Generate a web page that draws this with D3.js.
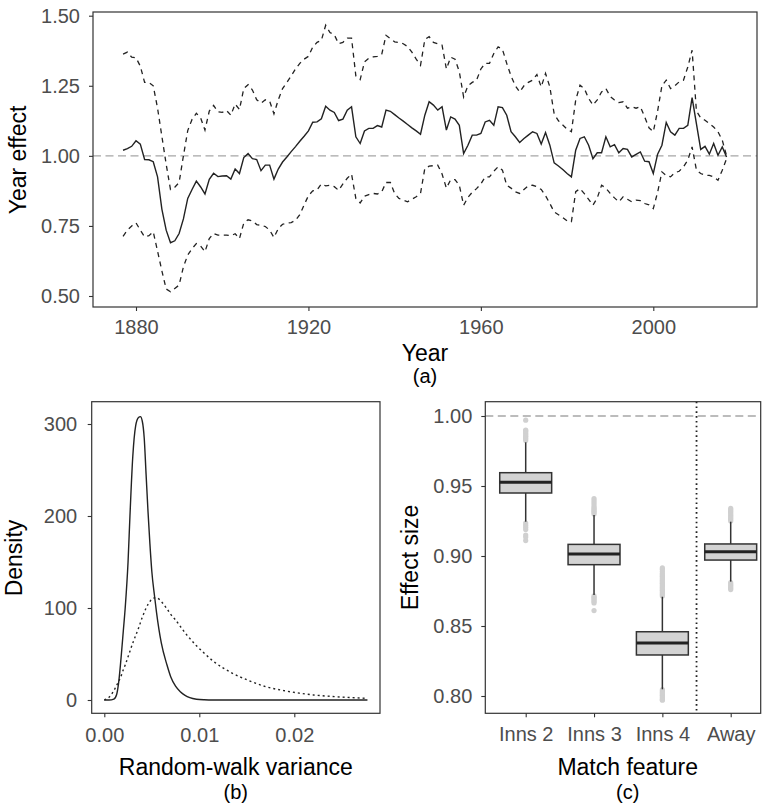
<!DOCTYPE html>
<html>
  <head>
    <meta charset="UTF-8" />
    <title>Year effect, random-walk variance and match features</title>
    <script src="https://cdn.jsdelivr.net/npm/d3@7"></script>
    <style>
      body {
        margin: 0;
        background: #fff;
      }
      svg {
        display: block;
        font-family: "Liberation Sans", Arial, sans-serif;
      }
      .tick text {
        fill: #4d4d4d;
        font-size: 20px;
        font-family: "Liberation Sans", Arial, sans-serif;
      }
      .tick line {
        stroke: #333;
        stroke-width: 1.1;
      }
      .title {
        font-size: 23px;
        fill: #000;
      }
      .panel-label {
        font-size: 20px;
        fill: #000;
      }
    </style>
  </head>
  <body>
    <div class="figure"></div>

    <script>
      // ---- panel (a): year effect with interval ----
      const years = [
        1877, 1878, 1879, 1880, 1881, 1882, 1883, 1884, 1885, 1886,
        1887, 1888, 1889, 1890, 1891, 1892, 1893, 1894, 1895, 1896,
        1897, 1898, 1899, 1900, 1901, 1902, 1903, 1904, 1905, 1906,
        1907, 1908, 1909, 1910, 1911, 1912, 1913, 1914, 1915, 1916,
        1917, 1918, 1919, 1920, 1921, 1922, 1923, 1924, 1925, 1926,
        1927, 1928, 1929, 1930, 1931, 1932, 1933, 1934, 1935, 1936,
        1937, 1938, 1939, 1940, 1941, 1942, 1943, 1944, 1945, 1946,
        1947, 1948, 1949, 1950, 1951, 1952, 1953, 1954, 1955, 1956,
        1957, 1958, 1959, 1960, 1961, 1962, 1963, 1964, 1965, 1966,
        1967, 1968, 1969, 1970, 1971, 1972, 1973, 1974, 1975, 1976,
        1977, 1978, 1979, 1980, 1981, 1982, 1983, 1984, 1985, 1986,
        1987, 1988, 1989, 1990, 1991, 1992, 1993, 1994, 1995, 1996,
        1997, 1998, 1999, 2000, 2001, 2002, 2003, 2004, 2005, 2006,
        2007, 2008, 2009, 2010, 2011, 2012, 2013, 2014, 2015, 2016,
        2017,
      ];
      const yearMean = [
        1.020, 1.026, 1.034, 1.054, 1.042, 0.987, 0.986, 0.979, 0.925, 0.810,
        0.735, 0.690, 0.697, 0.723, 0.775, 0.848, 0.880, 0.910, 0.889, 0.864,
        0.916, 0.938, 0.926, 0.928, 0.929, 0.917, 0.953, 0.937, 0.994, 1.008,
        0.990, 0.987, 0.947, 0.967, 0.967, 0.917, 0.953, 0.978, 0.996, 1.015,
        1.033, 1.052, 1.070, 1.089, 1.120, 1.121, 1.132, 1.177, 1.163, 1.155,
        1.126, 1.131, 1.163, 1.175, 1.068, 1.044, 1.089, 1.098, 1.098, 1.108,
        1.103, 1.163, 1.159, 1.147, 1.135, 1.124, 1.112, 1.100, 1.089, 1.077,
        1.145, 1.193, 1.181, 1.163, 1.175, 1.092, 1.139, 1.131, 1.109, 1.008,
        1.038, 1.074, 1.074, 1.080, 1.121, 1.127, 1.109, 1.175, 1.172, 1.145,
        1.086, 1.068, 1.048, 1.062, 1.074, 1.086, 1.080, 1.042, 1.083, 1.038,
        0.975, 0.964, 0.951, 0.937, 0.925, 1.020, 1.062, 1.068, 1.038, 0.990,
        1.011, 1.011, 1.068, 1.032, 1.040, 1.011, 1.026, 1.023, 0.996, 1.005,
        1.014, 0.981, 0.979, 0.937, 1.006, 1.038, 1.119, 1.086, 1.074, 1.098,
        1.098, 1.109, 1.208, 1.115, 1.023, 1.034, 1.006, 1.044, 1.002, 1.032,
        0.996,
      ];
      const yearUpper = [
        1.363, 1.370, 1.352, 1.350, 1.320, 1.262, 1.262, 1.250, 1.170, 1.070,
        0.970, 0.880, 0.888, 0.905, 1.000, 1.090, 1.130, 1.152, 1.135, 1.092,
        1.160, 1.180, 1.157, 1.155, 1.162, 1.145, 1.185, 1.165, 1.240, 1.254,
        1.235, 1.200, 1.188, 1.200, 1.195, 1.150, 1.200, 1.240, 1.262, 1.285,
        1.310, 1.330, 1.345, 1.355, 1.388, 1.405, 1.412, 1.466, 1.440, 1.432,
        1.400, 1.405, 1.420, 1.420, 1.285, 1.272, 1.335, 1.348, 1.353, 1.355,
        1.362, 1.430, 1.418, 1.407, 1.404, 1.400, 1.390, 1.370, 1.345, 1.323,
        1.415, 1.425, 1.405, 1.400, 1.395, 1.310, 1.352, 1.345, 1.300, 1.210,
        1.250, 1.262, 1.270, 1.310, 1.330, 1.330, 1.365, 1.389, 1.380, 1.330,
        1.285, 1.250, 1.228, 1.250, 1.262, 1.270, 1.290, 1.246, 1.294, 1.246,
        1.150, 1.125, 1.110, 1.095, 1.086, 1.199, 1.252, 1.240, 1.205, 1.181,
        1.200, 1.228, 1.240, 1.212, 1.199, 1.190, 1.193, 1.170, 1.175, 1.170,
        1.175, 1.139, 1.100, 1.086, 1.160, 1.250, 1.270, 1.240, 1.250, 1.264,
        1.270, 1.317, 1.377, 1.160, 1.135, 1.127, 1.115, 1.103, 1.086, 1.056,
        1.000,
      ];
      const yearLower = [
        0.713, 0.735, 0.750, 0.761, 0.735, 0.711, 0.715, 0.729, 0.660, 0.590,
        0.525, 0.515, 0.527, 0.539, 0.604, 0.646, 0.669, 0.687, 0.678, 0.658,
        0.705, 0.723, 0.717, 0.717, 0.717, 0.715, 0.722, 0.705, 0.760, 0.772,
        0.768, 0.755, 0.752, 0.748, 0.735, 0.709, 0.740, 0.756, 0.760, 0.762,
        0.770, 0.790, 0.825, 0.858, 0.875, 0.878, 0.900, 0.893, 0.895, 0.890,
        0.877, 0.900, 0.920, 0.935, 0.848, 0.832, 0.856, 0.862, 0.866, 0.864,
        0.872, 0.905, 0.905, 0.866, 0.848, 0.842, 0.836, 0.845, 0.854, 0.866,
        0.955, 0.963, 0.965, 0.967, 0.935, 0.885, 0.915, 0.915, 0.895, 0.824,
        0.852, 0.870, 0.883, 0.900, 0.925, 0.925, 0.945, 0.961, 0.949, 0.895,
        0.885, 0.872, 0.866, 0.880, 0.893, 0.895, 0.890, 0.880, 0.858, 0.830,
        0.800, 0.790, 0.780, 0.768, 0.765, 0.872, 0.883, 0.865, 0.845, 0.824,
        0.850, 0.895, 0.885, 0.866, 0.850, 0.836, 0.854, 0.845, 0.836, 0.842,
        0.840, 0.830, 0.825, 0.812, 0.870, 0.943, 0.930, 0.925, 0.940, 0.945,
        0.961, 0.985, 1.032, 0.950, 0.937, 0.931, 0.930, 0.925, 0.913, 0.949,
        0.990,
      ];
      const yearTicks = [1880, 1920, 1960, 2000];
      const effectTicks = [0.5, 0.75, 1.0, 1.25, 1.5];

      // ---- panel (b): random-walk variance densities ----
      const varianceX = [
        0, 0.0005, 0.001, 0.0013, 0.0015, 0.0018, 0.002, 0.0022, 0.0025,
        0.0027, 0.003, 0.0033, 0.0036, 0.0038, 0.004, 0.0042, 0.0044, 0.0046,
        0.0048, 0.005, 0.0053, 0.0055, 0.006, 0.0066, 0.007, 0.0075, 0.008,
        0.0085, 0.009, 0.0097, 0.0105, 0.0115, 0.0135, 0.015, 0.017, 0.019,
        0.0205, 0.022, 0.024, 0.026, 0.0277,
      ];
      const posteriorDensity = [
        0, 0, 1, 6, 18, 50, 75, 100, 150,
        200, 265, 298, 307, 308, 303, 285, 245, 205,
        170, 140, 112, 95, 62, 38, 25, 15, 9,
        5, 2.5, 0.8, 0.2, 0, 0, 0, 0, 0,
        0, 0, 0, 0, 0,
      ];
      const priorDensity = [
        0, 3, 10, 16, 20, 27, 33, 38, 47,
        53, 62, 70, 78, 84, 90, 95, 100, 104,
        107, 110, 111, 111, 107, 99, 93, 87, 80,
        73, 67, 59, 51, 42, 29, 22, 14.5, 10,
        7.5, 5.5, 3.8, 2.6, 1.8,
      ];
      const varianceTicks = [0, 0.01, 0.02];
      const densityTicks = [0, 100, 200, 300];

      // ---- panel (c): match feature effect sizes ----
      const features = ["Inns 2", "Inns 3", "Inns 4", "Away"];
      const whiskerLow = [0.9245, 0.8721, 0.8048, 0.8817];
      const boxQ1 = [0.945, 0.8938, 0.8293, 0.8971];
      const boxMedian = [0.9526, 0.9014, 0.8379, 0.9031];
      const boxQ3 = [0.9595, 0.9083, 0.8459, 0.9086];
      const whiskerHigh = [0.9812, 0.9293, 0.8709, 0.9245];
      const outliers = [
        [0.9825, 0.9835, 0.9845, 0.9855, 0.9865, 0.9875, 0.9885, 0.9895,
         0.990, 0.997, 0.9235, 0.922, 0.9205, 0.919, 0.915, 0.9135, 0.911],
        [0.930, 0.931, 0.932, 0.933, 0.934, 0.935, 0.9365, 0.938, 0.9395,
         0.941, 0.8715, 0.8705, 0.8695, 0.8685, 0.8675, 0.8665, 0.861],
        [0.8715, 0.8725, 0.8735, 0.8745, 0.8755, 0.8765, 0.8775, 0.8785,
         0.8795, 0.8805, 0.8815, 0.8825, 0.8835, 0.8845, 0.8855, 0.8865,
         0.8875, 0.889, 0.8905, 0.8915, 0.8045, 0.8035, 0.8025, 0.8015,
         0.8005, 0.7995, 0.7985, 0.7975, 0.797],
        [0.925, 0.926, 0.927, 0.928, 0.929, 0.930, 0.931, 0.932, 0.933,
         0.934, 0.881, 0.880, 0.879, 0.878, 0.877, 0.876],
      ];
      const sizeTicks = [0.8, 0.85, 0.9, 0.95, 1.0];

      // ---- drawing ----
      const width = 766;
      const height = 810;
      const ink = "#222";

      const svg = d3
        .select(".figure")
        .append("svg")
        .attr("width", width)
        .attr("height", height);

      svg.append("rect").attr("width", width).attr("height", height).attr("fill", "#fff");

      function frame(p) {
        svg
          .append("rect")
          .attr("x", p.left)
          .attr("y", p.top)
          .attr("width", p.right - p.left)
          .attr("height", p.bottom - p.top)
          .attr("fill", "none")
          .attr("stroke", "#333")
          .attr("stroke-width", 1.2);
      }

      function axes(p, x, y, xOpts, yOpts) {
        svg
          .append("g")
          .attr("transform", `translate(0,${p.bottom})`)
          .call(
            d3
              .axisBottom(x)
              .tickValues(xOpts.values)
              .tickFormat(xOpts.format)
              .tickSize(4)
              .tickPadding(xOpts.pad)
          )
          .call((g) => g.select(".domain").remove());

        svg
          .append("g")
          .attr("transform", `translate(${p.left},0)`)
          .call(
            d3
              .axisLeft(y)
              .tickValues(yOpts.values)
              .tickFormat(yOpts.format)
              .tickSize(4)
              .tickPadding(yOpts.pad)
          )
          .call((g) => g.select(".domain").remove());
      }

      function titles(xText, xPos, yText, yPos, label, labelY) {
        svg
          .append("text")
          .attr("class", "title")
          .attr("x", xPos[0])
          .attr("y", xPos[1])
          .attr("text-anchor", "middle")
          .text(xText);
        svg
          .append("text")
          .attr("class", "title")
          .attr("text-anchor", "middle")
          .attr("transform", `translate(${yPos[0]},${yPos[1]}) rotate(-90)`)
          .text(yText);
        svg
          .append("text")
          .attr("class", "panel-label")
          .attr("x", xPos[0])
          .attr("y", labelY)
          .attr("text-anchor", "middle")
          .text(label);
      }

      // panel (a)
      const pa = { left: 93, right: 757, top: 12, bottom: 307 };
      const xa = d3.scaleLinear().domain([1880, 2000]).range([136, 653.3]);
      const ya = d3.scaleLinear().domain([0.5, 1.5]).range([296, 15.7]);

      svg
        .append("line")
        .attr("x1", pa.left)
        .attr("x2", pa.right)
        .attr("y1", ya(1))
        .attr("y2", ya(1))
        .attr("stroke", "#a6a6a6")
        .attr("stroke-width", 1.3)
        .attr("stroke-dasharray", "8,4.5");

      const yearLine = d3
        .line()
        .x((d, i) => xa(years[i]))
        .y((d) => ya(d));

      [yearUpper, yearLower].forEach((series) => {
        svg
          .append("path")
          .datum(series)
          .attr("fill", "none")
          .attr("stroke", ink)
          .attr("stroke-width", 1.3)
          .attr("stroke-dasharray", "5,4.5")
          .attr("d", yearLine);
      });

      svg
        .append("path")
        .datum(yearMean)
        .attr("fill", "none")
        .attr("stroke", ink)
        .attr("stroke-width", 1.4)
        .attr("d", yearLine);

      frame(pa);
      axes(
        pa,
        xa,
        ya,
        { values: yearTicks, format: d3.format("d"), pad: 9 },
        { values: effectTicks, format: d3.format(".2f"), pad: 9 }
      );
      titles("Year", [425, 361], "Year effect", [26, 160], "(a)", 383);

      // panel (b)
      const pb = { left: 91.7, right: 380, top: 401.7, bottom: 713.3 };
      const xb = d3.scaleLinear().domain([0, 0.02]).range([104.3, 294.3]);
      const yb = d3.scaleLinear().domain([0, 300]).range([700, 424]);

      const densityLine = (series) =>
        d3
          .line()
          .curve(d3.curveMonotoneX)
          .x((d, i) => xb(varianceX[i]))
          .y((d) => yb(d))(series);

      svg
        .append("path")
        .attr("d", densityLine(priorDensity))
        .attr("fill", "none")
        .attr("stroke", ink)
        .attr("stroke-width", 1.4)
        .attr("stroke-dasharray", "2,3");

      svg
        .append("path")
        .attr("d", densityLine(posteriorDensity))
        .attr("fill", "none")
        .attr("stroke", ink)
        .attr("stroke-width", 1.4);

      frame(pb);
      axes(
        pb,
        xb,
        yb,
        { values: varianceTicks, format: d3.format(".2f"), pad: 11 },
        { values: densityTicks, format: d3.format("d"), pad: 10.5 }
      );
      titles("Random-walk variance", [235.8, 775], "Density", [22, 558], "(b)", 799);

      // panel (c)
      const pc = { left: 485.3, right: 760.7, top: 401.7, bottom: 713.3 };
      const xc = d3.scalePoint().domain(features).range([525.7, 730.7]);
      const yc = d3.scaleLinear().domain([0.8, 1.0]).range([696, 416]);
      const half = xc.step() * 0.38;

      svg
        .append("line")
        .attr("x1", pc.left)
        .attr("x2", pc.right)
        .attr("y1", yc(1))
        .attr("y2", yc(1))
        .attr("stroke", "#a6a6a6")
        .attr("stroke-width", 1.3)
        .attr("stroke-dasharray", "8,4.5");

      const splitX = (xc("Inns 4") + xc("Away")) / 2;
      svg
        .append("line")
        .attr("x1", splitX)
        .attr("x2", splitX)
        .attr("y1", pc.top)
        .attr("y2", pc.bottom)
        .attr("stroke", ink)
        .attr("stroke-width", 1.8)
        .attr("stroke-dasharray", "1.6,3.2");

      const boxes = svg
        .append("g")
        .selectAll("g")
        .data(features)
        .join("g");

      boxes.each(function (name, i) {
        const g = d3.select(this);
        const cx = xc(name);

        g.selectAll("circle")
          .data(outliers[i])
          .join("circle")
          .attr("cx", cx)
          .attr("cy", (d) => yc(d))
          .attr("r", 2.6)
          .attr("fill", "#d0d0d0");

        g.append("line")
          .attr("x1", cx)
          .attr("x2", cx)
          .attr("y1", yc(whiskerHigh[i]))
          .attr("y2", yc(whiskerLow[i]))
          .attr("stroke", "#333")
          .attr("stroke-width", 1.5);

        g.append("rect")
          .attr("x", cx - half)
          .attr("y", yc(boxQ3[i]))
          .attr("width", half * 2)
          .attr("height", yc(boxQ1[i]) - yc(boxQ3[i]))
          .attr("fill", "#d3d3d3")
          .attr("stroke", "#333")
          .attr("stroke-width", 1.5);

        g.append("line")
          .attr("x1", cx - half)
          .attr("x2", cx + half)
          .attr("y1", yc(boxMedian[i]))
          .attr("y2", yc(boxMedian[i]))
          .attr("stroke", "#222")
          .attr("stroke-width", 3);
      });

      frame(pc);
      axes(
        pc,
        xc,
        yc,
        { values: features, format: (d) => d, pad: 9.5 },
        { values: sizeTicks, format: d3.format(".2f"), pad: 9 }
      );
      titles("Match feature", [627.7, 775], "Effect size", [418, 557.5], "(c)", 799);
    </script>
  </body>
</html>
